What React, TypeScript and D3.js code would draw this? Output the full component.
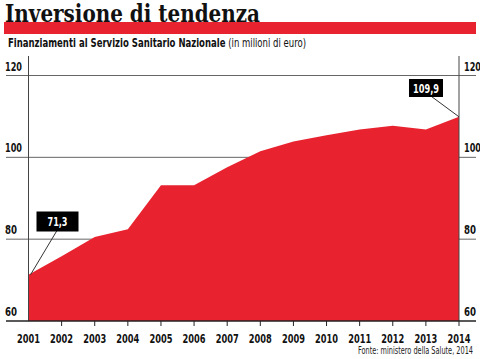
import React from "react";
import * as d3 from "d3";

const years = [2001, 2002, 2003, 2004, 2005, 2006, 2007, 2008, 2009, 2010, 2011, 2012, 2013, 2014];
const funding = [71.3, 75.8, 80.5, 82.4, 93.2, 93.2, 97.6, 101.5, 103.9, 105.4, 106.8, 107.7, 106.8, 109.9];
const yTicks = [60, 80, 100, 120];

const RED = "#e8232f";
const NARROW = "'Liberation Sans Narrow', 'Arial Narrow', 'DejaVu Sans Condensed', sans-serif";

// squeeze text to a width, since there's no narrow font around
const fit = (w: number) => ({ textLength: w, lengthAdjust: "spacingAndGlyphs" as const });

export default function App() {
	const x = d3.scaleLinear().domain([2001, 2014]).range([28.5, 459]);
	const y = d3.scaleLinear().domain([60, 120]).range([321, 75.5]);

	const data = years.map((yr, i) => ({ yr, v: funding[i] }));
	const area = d3
		.area<any>()
		.x((d) => x(d.yr))
		.y0(y(60))
		.y1((d) => y(d.v));

	const first = data[0];
	const last = data[data.length - 1];
	const fmt = (v: number) => String(v).replace(".", ",");

	return (
		<svg width={480} height={359} style={{ position: "absolute", left: 0, top: 0, background: "#fff" }}>
			<rect x={4} y={22} width={472} height={12} fill={RED} />
			<text x={5} y={21.5} fontFamily="'DejaVu Serif', serif" fontWeight={900} fontSize={25} fill="#111" {...fit(255)}>
				Inversione di tendenza
			</text>
			<g transform="translate(8,47) scale(0.79,1)">
				<text x={0} y={0} fontFamily={NARROW} fontSize={12} fill="#111">
					<tspan fontWeight="bold">Finanziamenti al Servizio Sanitario Nazionale</tspan>
					<tspan> (in milioni di euro)</tspan>
				</text>
			</g>

			{/* gridlines */}
			{yTicks.slice(1).map((t) => (
				<line key={t} x1={6} x2={476} y1={y(t)} y2={y(t)} stroke="#666" strokeWidth={1} />
			))}

			<path d={area(data) || ""} fill={RED} />

			{/* vertical axes */}
			<line x1={x(2001)} x2={x(2001)} y1={56} y2={y(60)} stroke="#444" />
			<line x1={x(2014)} x2={x(2014)} y1={56} y2={y(60)} stroke="#444" />

			{/* baseline */}
			<line x1={6} x2={476} y1={y(60)} y2={y(60)} stroke="#222" strokeWidth={1.5} />
			{years.slice(1).map((yr) => (
				<line key={yr} x1={x(yr)} x2={x(yr)} y1={y(60)} y2={y(60) + 5} stroke="#222" />
			))}

			{/* y labels */}
			{yTicks.map((t) => {
				const w = t >= 100 ? 17 : 12;
				return (
					<g key={t} fontFamily={NARROW} fontWeight="bold" fontSize={13} fill="#111">
						<text x={5} y={y(t) - 5} {...fit(w)}>{t}</text>
						<text x={464} y={y(t) - 5} {...fit(w)}>{t}</text>
					</g>
				);
			})}

			{/* x labels */}
			{years.map((yr) => (
				<text
					key={yr}
					x={x(yr) - 11.5}
					y={343}
					fontFamily={NARROW}
					fontWeight="bold"
					fontSize={13}
					fill="#111"
					{...fit(23)}
				>
					{yr}
				</text>
			))}

			{/* annotations */}
			<line x1={56.7} y1={231} x2={x(first.yr) + 2} y2={y(first.v)} stroke="#333" />
			<rect x={36.5} y={211.5} width={42} height={20} fill="#000" />
			<text x={47.5} y={226} fontFamily={NARROW} fontWeight="bold" fontSize={13} fill="#fff" {...fit(20)}>
				{fmt(first.v)}
			</text>

			<line x1={431.5} y1={96.5} x2={x(last.yr)} y2={y(last.v)} stroke="#333" />
			<rect x={409} y={79} width={34} height={18} fill="#000" />
			<text x={413} y={92.5} fontFamily={NARROW} fontWeight="bold" fontSize={13} fill="#fff" {...fit(26)}>
				{fmt(last.v)}
			</text>

			<text x={358} y={354} fontFamily={NARROW} fontSize={10} fill="#222" {...fit(115)}>
				Fonte: ministero della Salute, 2014
			</text>
		</svg>
	);
}
